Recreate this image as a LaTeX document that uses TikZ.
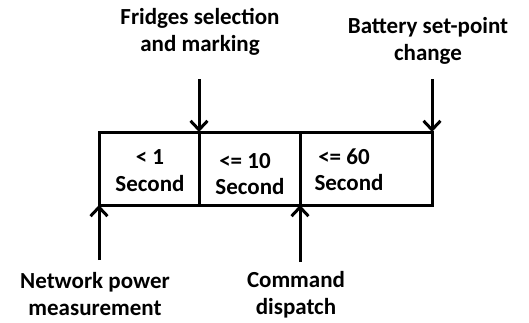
\documentclass[tikz,border=0pt]{standalone}
\usepackage{fontspec}
\setmainfont{Carlito}
\usetikzlibrary{arrows.meta}
\begin{document}
\begin{tikzpicture}[x=1pt,y=1pt,
  cell/.style={draw,line width=3pt,outer sep=0pt,minimum height=73pt,inner sep=0pt,anchor=south west},
  lbl/.style={font=\bfseries\fontsize{23}{27}\selectfont,align=center,inner sep=0pt},
  arr/.style={line width=3pt,-{Straight Barb[length=9pt,width=17pt,line width=3pt]}}]
\useasboundingbox (0,0) rectangle (529,322);
\node[cell,minimum width=100pt] (c1) at (99,117) {};
\node[cell,minimum width=101pt] (c2) at (199,117) {};
\node[cell,minimum width=132pt] (c3) at (300,117) {};
\node[lbl] (t1a) at (150,165) {< 1};
\node[lbl] (t1b) at (150,138) {Second};
\node[lbl] (t2a) at (245,161) {<= 10};
\node[lbl] (t2b) at (250,135) {Second};
\node[lbl] (t3a) at (344,165) {<= 60};
\node[lbl] (t3b) at (349,139) {Second};
\node[lbl] (fr) at (200,290) {Fridges selection\\and marking};
\node[lbl] (ba) at (428,281) {Battery set-point\\change};
\node[lbl] (nw) at (95,28) {Network power\\measurement};
\node[lbl] (cm) at (296,27) {Command\\dispatch};
\coordinate (a1) at (199,243);
\coordinate (a2) at (432,243);
\coordinate (b1) at (99,62);
\coordinate (b2) at (300,60);
\draw[arr] (a1) -- (c2.north west);
\draw[arr] (a2) -- (c3.north east);
\draw[arr] (b1) -- (c1.south west);
\draw[arr] (b2) -- (c3.south west);
\end{tikzpicture}
\end{document}
